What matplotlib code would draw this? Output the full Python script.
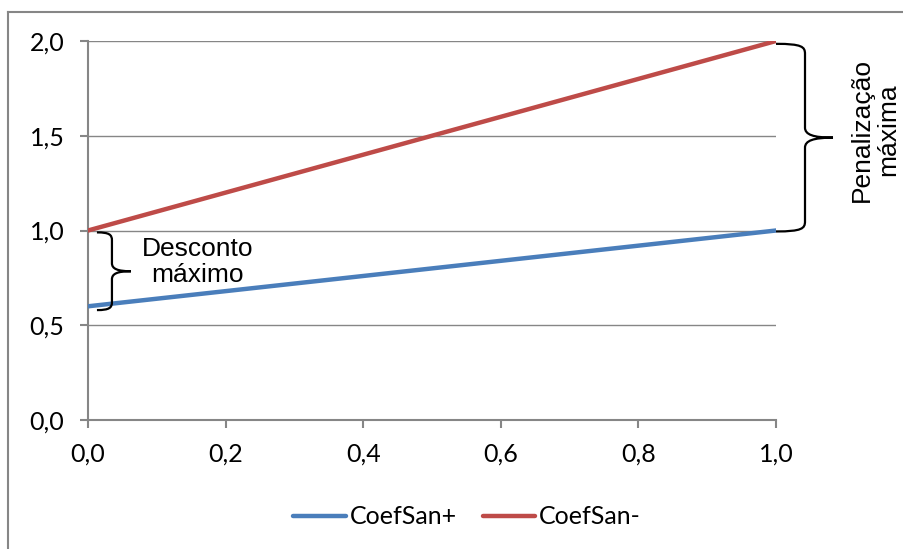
import matplotlib
matplotlib.use("Agg")
import matplotlib.pyplot as plt
from matplotlib.path import Path
from matplotlib.patches import PathPatch
from matplotlib.lines import Line2D

# dados
x_vals = [0.0, 1.0]
coef_mais = [0.6, 1.0]
coef_menos = [1.0, 2.0]
x_ticks = [0.0, 0.2, 0.4, 0.6, 0.8, 1.0]
y_ticks = [0.0, 0.5, 1.0, 1.5, 2.0]
lbl_desconto = "Desconto\nmáximo"
lbl_penal = "Penalização\nmáxima"

W, H = 904, 549
fig = plt.figure(figsize=(W / 100, H / 100), dpi=100)
fig.patch.set_facecolor("white")

# borda da area do grafico (so esquerda e topo visiveis)
fig.add_artist(Line2D([8 / W, 8 / W], [0, 1 - 12 / H], transform=fig.transFigure,
                      color="#868686", lw=1.5))
fig.add_artist(Line2D([8 / W, 1], [1 - 12 / H, 1 - 12 / H], transform=fig.transFigure,
                      color="#868686", lw=1.5))

ax = fig.add_axes([88 / W, 1 - 420 / H, 688 / W, 379 / H])
ax.plot(x_vals, coef_mais, color="#4A7EBB", lw=3.2, label="CoefSan+",
        solid_capstyle="round", zorder=3)
ax.plot(x_vals, coef_menos, color="#BE4B48", lw=3.2, label="CoefSan-",
        solid_capstyle="round", zorder=3)

ax.set_xlim(0, 1)
ax.set_ylim(0, 2)
ax.set_xticks(x_ticks)
ax.set_yticks(y_ticks)
ax.set_xticklabels([f"{v:.1f}".replace(".", ",") for v in x_ticks])
ax.set_yticklabels([f"{v:.1f}".replace(".", ",") for v in y_ticks])
ax.grid(axis="y", color="#868686", lw=1)
ax.set_axisbelow(True)
for s in ["top", "right"]:
    ax.spines[s].set_visible(False)
for s in ["left", "bottom"]:
    ax.spines[s].set_color("#868686")
    ax.spines[s].set_linewidth(1.5)
ax.tick_params(axis="both", direction="out", length=6, width=1.5, color="#868686",
               labelsize=18, labelcolor="black")
ax.tick_params(axis="y", pad=11)
ax.tick_params(axis="x", pad=10)
for t in ax.get_xticklabels() + ax.get_yticklabels():
    t.set_family("Lato")


def chave(x_data, y_top, y_bot, w, tip, r=8):
    # chave "}" desenhada em pixels a partir de pontos dos dados
    x0, ya = ax.transData.transform((x_data, y_top))
    _, yb = ax.transData.transform((x_data, y_bot))
    ym = (ya + yb) / 2
    xv = x0 + w
    verts = [
        (x0, ya),
        (xv - r * 0.3, ya), (xv, ya - r * 0.3), (xv, ya - r),
        (xv, ym + r),
        (xv, ym + r * 0.3), (xv + tip * 0.3, ym), (xv + tip, ym),
        (xv + tip * 0.3, ym), (xv, ym - r * 0.3), (xv, ym - r),
        (xv, yb + r),
        (xv, yb + r * 0.3), (xv - r * 0.3, yb), (x0, yb),
    ]
    codes = [Path.MOVETO,
             Path.CURVE4, Path.CURVE4, Path.CURVE4,
             Path.LINETO,
             Path.CURVE4, Path.CURVE4, Path.CURVE4,
             Path.CURVE4, Path.CURVE4, Path.CURVE4,
             Path.LINETO,
             Path.CURVE4, Path.CURVE4, Path.CURVE4]
    p = PathPatch(Path(verts, codes), transform=None, fill=False,
                  edgecolor="black", lw=1.6, clip_on=False, zorder=4)
    fig.add_artist(p)


fig.canvas.draw()
chave(0.013, coef_menos[0] - 0.01, coef_mais[0] - 0.02, 15, 19)
chave(1.0, coef_menos[1] - 0.015, coef_mais[1] - 0.005, 29, 28, r=10)

ax.text(0.159, 0.835, lbl_desconto, ha="center", va="center", fontsize=19,
        family="Liberation Sans", linespacing=1.1, zorder=5)
fig.text(875 / W, 1 - 130 / H, lbl_penal, ha="center", va="center", fontsize=19,
         family="Liberation Sans", rotation=90, linespacing=1.1)

leg = fig.legend(loc="center", bbox_to_anchor=(467 / W, 1 - 517 / H), ncol=2,
                 frameon=False, handlelength=2.1, handletextpad=0.15,
                 columnspacing=1.05, prop={"family": "Lato", "size": 18})

fig.savefig("out.png", dpi=100)
